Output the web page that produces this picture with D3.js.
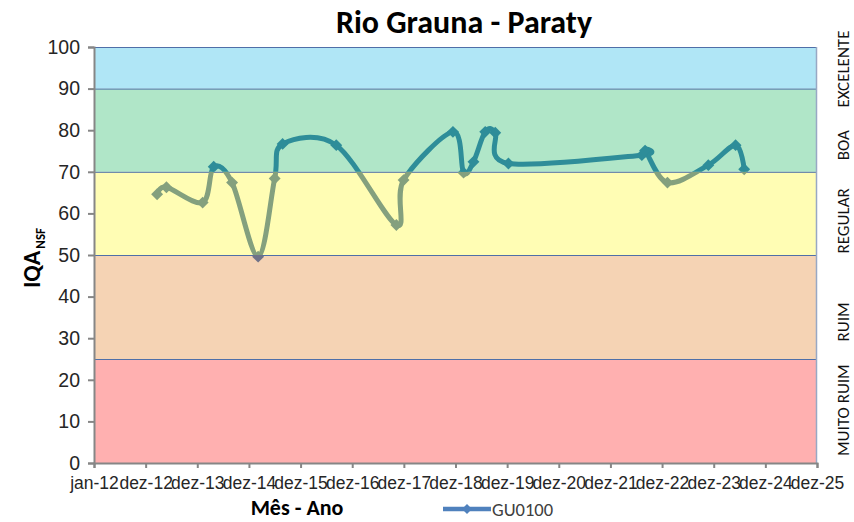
<!DOCTYPE html>
<html>
<head>
<meta charset="utf-8">
<script src="https://cdn.jsdelivr.net/npm/d3@7"></script>
<style>
  body { margin: 0; background: #fff; }
  svg { font-family: Calibri, Carlito, "Open Sans", sans-serif; }
</style>
</head>
<body>
<div id="chart"></div>
<script>
// tick labels of the date axis and the dates they stand for
var tickLabels = ["jan-12","dez-12","dez-13","dez-14","dez-15","dez-16","dez-17",
                  "dez-18","dez-19","dez-20","dez-21","dez-22","dez-23","dez-24","dez-25"];
var tickDates = ["2012-01-01","2012-12-01","2013-12-01","2014-12-01","2015-12-01","2016-12-01",
                 "2017-12-01","2018-12-01","2019-12-01","2020-12-01","2021-12-01","2022-12-01",
                 "2023-12-01","2024-12-01","2025-12-01"];

// GU0100 samples
var sampleDates = ["2013-02-20","2013-04-27","2014-01-08","2014-03-27","2014-08-04","2015-02-04",
                   "2015-06-01","2015-07-27","2016-08-10","2017-10-09","2017-11-29","2018-11-13",
                   "2019-01-27","2019-04-07","2019-06-29","2019-09-08","2019-12-10","2022-07-11",
                   "2022-08-03","2023-01-08","2023-10-24","2024-05-04","2024-07-04"];
var iqaValues = [64.6, 66.3, 62.6, 71.2, 67.4, 49.6,
                 68.4, 76.7, 76.4, 57.2, 68.0, 79.6,
                 69.8, 72.4, 79.6, 79.4, 72.0, 74.0,
                 75.1, 67.4, 71.6, 76.4, 70.6];

// quality classes
var bandLow  = [0, 25, 50, 70, 90];
var bandHigh = [25, 50, 70, 90, 100];
var bandNames = ["MUITO RUIM", "RUIM", "REGULAR", "BOA", "EXCELENTE"];
var yTicks = [0,10,20,30,40,50,60,70,80,90,100];

// looks
var bandFill = ["#ffb0b0", "#f5d3b4", "#fffdb4", "#b0e6c8", "#b0e6f6"];
var lineTint = ["#7d5781", "#6f7288", "#84a07e", "#2e8d99", "#2e8dc7"];
var labelAt  = [12.7, 33.9, 58.2, 76.4, 94.7];

var W = 854, H = 522;
var margin = {top: 47, right: 37, bottom: 59, left: 94};
var width = W - margin.left - margin.right,
    height = H - margin.top - margin.bottom;

var parse = d3.timeParse("%Y-%m-%d");
var tDates = tickDates.map(parse);
var data = sampleDates.map(function(d, i){ return {date: parse(d), value: iqaValues[i]}; });

var svg = d3.select("#chart").append("svg")
    .attr("width", W).attr("height", H);

var g = svg.append("g")
    .attr("transform", "translate(" + margin.left + "," + margin.top + ")");

// date axis: every tick equally spaced, like the spreadsheet
var step = width / (tDates.length - 1);
var x = d3.scaleTime()
    .domain(tDates)
    .range(tDates.map(function(d, i){ return i * step; }));

var y = d3.scaleLinear().domain([0, 100]).range([height, 0]);

// bands
g.selectAll("rect.band")
    .data(bandLow)
    .enter().append("rect")
    .attr("class", "band")
    .attr("x", 0)
    .attr("width", width)
    .attr("y", function(d, i){ return y(bandHigh[i]); })
    .attr("height", function(d, i){ return y(d) - y(bandHigh[i]); })
    .attr("fill", function(d, i){ return bandFill[i]; });

// band separators
g.selectAll("line.sep")
    .data([0, 25, 50, 70, 90, 100])
    .enter().append("line")
    .attr("x1", 0).attr("x2", width)
    .attr("y1", function(d){ return y(d) + 0.5; })
    .attr("y2", function(d){ return y(d) + 0.5; })
    .attr("stroke", "#4f6fa8")
    .attr("stroke-width", 1);

g.append("line")
    .attr("x1", width - 0.5).attr("x2", width - 0.5)
    .attr("y1", y(100)).attr("y2", y(0))
    .attr("stroke", "#98a8c4").attr("stroke-width", 1.5);

// series line, tinted by the band it crosses
var line = d3.line()
    .x(function(d){ return x(d.date); })
    .y(function(d){ return y(d.value); })
    .curve(d3.curveCardinal.tension(0));

var defs = svg.append("defs");
bandLow.forEach(function(lo, i){
    defs.append("clipPath").attr("id", "clip" + i)
        .append("rect")
        .attr("x", -10).attr("width", width + 20)
        .attr("y", i == bandLow.length - 1 ? -20 : y(bandHigh[i]))
        .attr("height", y(lo) - y(bandHigh[i]) + (i == 0 ? 20 : 0) + (i == bandLow.length - 1 ? 20 : 0));

    var s = g.append("g").attr("clip-path", "url(#clip" + i + ")");
    s.append("path")
        .datum(data)
        .attr("fill", "none")
        .attr("stroke", lineTint[i])
        .attr("stroke-width", 5)
        .attr("stroke-linejoin", "round")
        .attr("stroke-linecap", "round")
        .attr("d", line);
    s.selectAll("rect.mk")
        .data(data)
        .enter().append("rect")
        .attr("x", -4.2).attr("y", -4.2)
        .attr("width", 8.4).attr("height", 8.4)
        .attr("fill", lineTint[i])
        .attr("transform", function(d){
            return "translate(" + x(d.date) + "," + y(d.value) + ") rotate(45)";
        });
});

// axes
var xAxis = g.append("g")
    .attr("transform", "translate(0," + height + ")")
    .call(d3.axisBottom(x)
        .tickValues(tDates)
        .tickFormat(function(d, i){ return tickLabels[i]; })
        .tickSizeOuter(0)
        .tickSize(5)
        .tickPadding(9));

var yAxis = g.append("g")
    .call(d3.axisLeft(y)
        .tickValues(yTicks)
        .tickSizeOuter(0)
        .tickSize(6)
        .tickPadding(8));

[xAxis, yAxis].forEach(function(a){
    a.select(".domain").attr("stroke", "#868686").attr("stroke-width", 2);
    a.selectAll(".tick line").attr("stroke", "#868686").attr("stroke-width", 2);
    a.selectAll("text").attr("fill", "#262626");
});
xAxis.selectAll("text").style("font-size", "17.5px");
yAxis.selectAll("text").style("font-size", "19.5px");

// class names on the right
svg.selectAll("text.cls")
    .data(bandNames)
    .enter().append("text")
    .attr("class", "cls")
    .attr("text-anchor", "middle")
    .attr("transform", function(d, i){
        return "translate(849," + (margin.top + y(labelAt[i])) + ") rotate(-90)";
    })
    .style("font-size", "17px")
    .attr("fill", "#111")
    .text(function(d){ return d; });

// titles
svg.append("text")
    .attr("x", 464).attr("y", 33)
    .attr("text-anchor", "middle")
    .style("font-size", "32px")
    .style("font-weight", "bold")
    .attr("fill", "#000")
    .text("Rio Grauna - Paraty");

svg.append("text")
    .attr("x", 297).attr("y", 515)
    .attr("text-anchor", "middle")
    .style("font-size", "22px")
    .style("font-weight", "bold")
    .attr("fill", "#000")
    .text("Mês - Ano");

var yt = svg.append("text")
    .attr("transform", "translate(40,258) rotate(-90)")
    .attr("text-anchor", "middle")
    .style("font-weight", "bold")
    .attr("fill", "#000");
yt.append("tspan").style("font-size", "24px").text("IQA");
yt.append("tspan").style("font-size", "13px").attr("dy", 5).attr("dx", 2).text("NSF");

// legend
var lg = svg.append("g").attr("transform", "translate(443,509)");
lg.append("line")
    .attr("x1", 0).attr("x2", 48)
    .attr("stroke", "#4f81bd").attr("stroke-width", 4.5);
lg.append("rect")
    .attr("x", -3.5).attr("y", -3.5).attr("width", 7).attr("height", 7)
    .attr("fill", "#4f81bd")
    .attr("transform", "translate(24,0) rotate(45)");
lg.append("text")
    .attr("x", 49).attr("y", 7)
    .style("font-size", "18.5px")
    .attr("fill", "#404040")
    .text("GU0100");
</script>
</body>
</html>
